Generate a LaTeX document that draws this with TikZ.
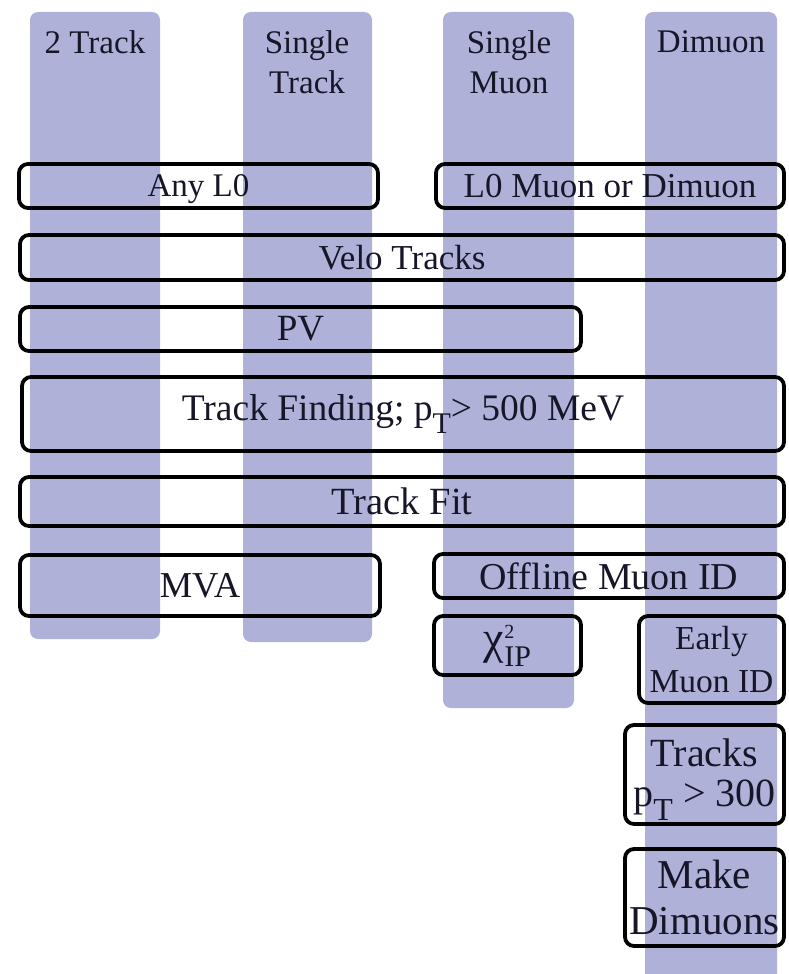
\documentclass[tikz,border=0pt]{standalone}
\usepackage{fontspec}
\setmainfont{Liberation Serif}
\usepackage{graphicx}
\definecolor{colbg}{RGB}{176,177,217}
\definecolor{ink}{RGB}{22,22,40}
\newcommand\ptsub{p\raisebox{-0.34em}{\scalebox{0.8}{T}}}
\newcommand\fs[2]{\fontsize{#1}{#2}\selectfont}
\tikzset{
  column/.style={fill=colbg, rounded corners=8pt, inner sep=0pt, outer sep=0pt},
  stage/.style={draw=black, line width=3.8pt, rounded corners=9pt, inner sep=0pt, outer sep=0pt, text=ink, align=center},
  head/.style={text=ink, align=center, inner sep=0pt},
}
\begin{document}
\begin{tikzpicture}[x=1pt,y=-1pt]
\useasboundingbox (0,0) rectangle (788,974);
\clip (0,0) rectangle (788,974);
\fill[white] (0,0) rectangle (788,974);
% columns
\node[column, minimum width=130, minimum height=627] (c1) at (95,325.5) {};
\node[column, minimum width=129, minimum height=630] (c2) at (307.5,327) {};
\node[column, minimum width=131, minimum height=696] (c3) at (508.5,360) {};
\node[column, minimum width=132, minimum height=978] (c4) at (711,501) {};
% headers
\node[head, font=\fs{33}{40}] (h1) at (95,42) {2 Track};
\node[head, font=\fs{33}{40}] (h2) at (307,62) {Single\\Track};
\node[head, font=\fs{33}{40}] (h3) at (509,62) {Single\\Muon};
\node[head, font=\fs{33}{40}] (h4) at (711,42) {Dimuon};
% stages
\node[stage, minimum width=359, minimum height=44, font=\fs{33}{36}, text depth=0.08em] (anyl0) at (198.5,186) {Any L0};
\node[stage, minimum width=348, minimum height=44, font=\fs{35}{36}] (l0mu) at (610,186) {L0 Muon or Dimuon};
\node[stage, minimum width=764, minimum height=45, font=\fs{35}{36}] (velo) at (402,257.5) {Velo Tracks};
\node[stage, minimum width=561, minimum height=44, font=\fs{37}{40}] (pv) at (300.5,329) {PV};
\node[stage, minimum width=762, minimum height=74, font=\fs{37.5}{40}] (tfind) at (403,414) {Track Finding; \ptsub{}> 500 MeV};
\node[stage, minimum width=764, minimum height=49, font=\fs{38.5}{40}] (tfit) at (402,501.5) {Track Fit};
\node[stage, minimum width=360, minimum height=61, font=\fs{36.5}{40}] (mva) at (200,585.5) {MVA};
\node[stage, minimum width=350, minimum height=44, font=\fs{38}{40}] (offmu) at (609,576) {Offline Muon ID};
\node[stage, minimum width=147, minimum height=59, font=\fs{46}{46}] (chi) at (507.5,645.5) {χ\raisebox{-13pt}{\rlap{\raisebox{28pt}{\fs{20}{20}2}}\fs{30}{30}IP}};
\node[stage, minimum width=145, minimum height=87, font=\fs{33.5}{43}] (early) at (711.5,659.5) {Early\\Muon ID};
\node[stage, minimum width=159, minimum height=99, font=\fs{40}{40}, text depth=0.3em] (trk) at (704.5,774.5) {Tracks\\\ptsub{} > 300};
\node[stage, minimum width=159, minimum height=97, font=\fs{41}{46}] (mkdi) at (704.5,897.5) {Make\\Dimuons};
\end{tikzpicture}
\end{document}
